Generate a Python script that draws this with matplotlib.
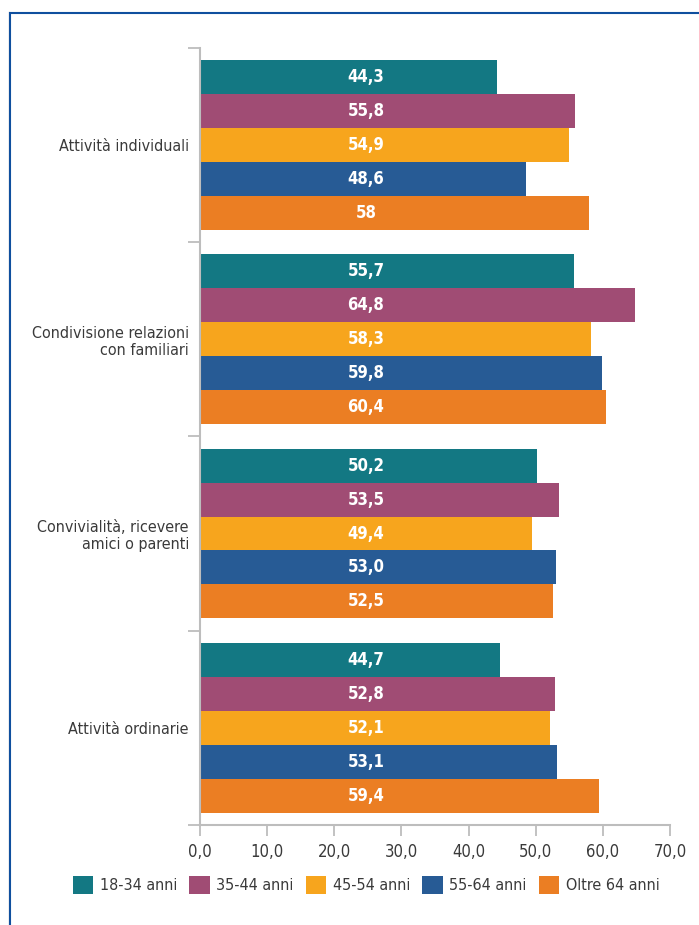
import matplotlib
matplotlib.use("Agg")
import matplotlib.pyplot as plt
from matplotlib.lines import Line2D
from matplotlib.patches import Patch

plt.rcParams['font.family'] = ['DejaVu Sans']
plt.rcParams['font.stretch'] = 'condensed'

# Data ---------------------------------------------------------------
categories = [
    "Attività individuali",
    "Condivisione relazioni\ncon familiari",
    "Convivialità, ricevere\namici o parenti",
    "Attività ordinarie",
]
series = ["18-34 anni", "35-44 anni", "45-54 anni", "55-64 anni", "Oltre 64 anni"]
labels_18_34 = ["44,3", "55,7", "50,2", "44,7"]
labels_35_44 = ["55,8", "64,8", "53,5", "52,8"]
labels_45_54 = ["54,9", "58,3", "49,4", "52,1"]
labels_55_64 = ["48,6", "59,8", "53,0", "53,1"]
labels_over_64 = ["58", "60,4", "52,5", "59,4"]
x_ticks = [0, 10, 20, 30, 40, 50, 60, 70]

series_labels = [labels_18_34, labels_35_44, labels_45_54, labels_55_64, labels_over_64]
series_values = [[float(s.replace(",", ".")) for s in lab] for lab in series_labels]
colors = ["#137883", "#a04c74", "#f7a51d", "#275b95", "#eb7e23"]

W, H = 699, 925
fig = plt.figure(figsize=(W / 100, H / 100), dpi=100)
ax = fig.add_axes([200 / W, 1 - 825 / H, 470 / W, (825 - 47.7) / H])

pitch = 194.5 / 34.0          # category slot height in bar units
bar_h = 1.0
n = len(series)
label_x = 24.7
text_grey = "#3a3a3a"
axis_grey = "#bdbdbd"

for gi in range(len(categories)):
    center = (gi + 0.5) * pitch
    for si in range(n):
        y = center + (si - (n - 1) / 2) * bar_h
        ax.barh(y, series_values[si][gi], height=bar_h, color=colors[si],
                edgecolor="none")
        ax.text(label_x, y, series_labels[si][gi], ha="center", va="center",
                color="white", fontsize=12, fontweight="bold")

ax.set_xlim(0, 70)
ax.set_ylim(len(categories) * pitch, 0)

ax.set_xticks(x_ticks)
ax.set_xticklabels([f"{v:.1f}".replace(".", ",") for v in x_ticks],
                   fontsize=12, color=text_grey)
ax.tick_params(axis="x", length=8, width=1.3, color=axis_grey, pad=5)

ax.set_yticks([i * pitch for i in range(len(categories) + 1)])
ax.set_yticklabels([])
ax.tick_params(axis="y", which="major", length=8.5, width=1.3, color=axis_grey)
ax.set_yticks([(i + 0.5) * pitch for i in range(len(categories))], minor=True)
ax.set_yticklabels(categories, minor=True, fontsize=11.5, color=text_grey)
ax.tick_params(axis="y", which="minor", length=0, pad=8)

for side in ("top", "right"):
    ax.spines[side].set_visible(False)
for side in ("left", "bottom"):
    ax.spines[side].set_color(axis_grey)
    ax.spines[side].set_linewidth(1.5)

# Legend
handles = [Patch(facecolor=c, edgecolor="none") for c in colors]
fig.legend(handles, series, loc="center", bbox_to_anchor=(366 / W, 1 - 885 / H),
           ncol=5, frameon=False, fontsize=11.5, handlelength=1.3,
           handleheight=1.3, handletextpad=0.4, columnspacing=0.75,
           labelcolor=text_grey)

# Blue frame along the top and left edges
fig.add_artist(Line2D([9 / W, 9 / W], [0, 1 - 11.5 / H], transform=fig.transFigure,
                      color="#c8c8c8", lw=1.0))
fig.add_artist(Line2D([10.3 / W, 10.3 / W, 1], [0, 1 - 12.7 / H, 1 - 12.7 / H],
                      transform=fig.transFigure, color="#0f4f9e", lw=1.5,
                      solid_joinstyle="miter"))

fig.savefig("out.png", dpi=100)
